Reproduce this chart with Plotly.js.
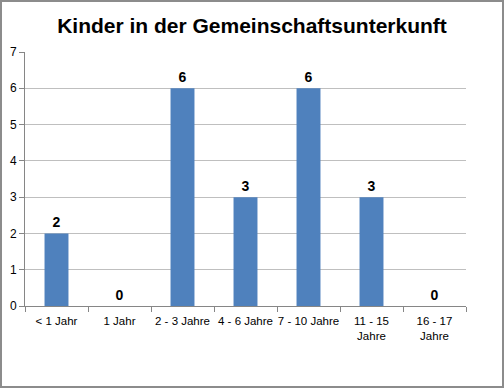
<!DOCTYPE html>
<html>
<head>
<meta charset="utf-8">
<script src="https://cdn.plot.ly/plotly-3.0.1.min.js"></script>
<style>
html,body{margin:0;padding:0;background:#fff;}
#frame{position:absolute;left:0;top:0;width:500px;height:384px;border:2px solid #8c8c8c;}
#chart{position:absolute;left:0;top:0;width:504px;height:388px;}
</style>
</head>
<body>
<div id="chart"></div>
<div id="frame"></div>
<script>
const categories = ["< 1 Jahr", "1 Jahr", "2 - 3 Jahre", "4 - 6 Jahre", "7 - 10 Jahre", "11 - 15<br>Jahre", "16 - 17<br>Jahre"];
const values = [2, 0, 6, 3, 6, 3, 0];
const yTicks = [0, 1, 2, 3, 4, 5, 6, 7];

const font = "Liberation Sans, Arial, sans-serif";

Plotly.newPlot("chart", [{
  type: "bar",
  x: categories,
  y: values,
  marker: {color: "#4F81BD"},
  text: values.map(String),
  textposition: "outside",
  cliponaxis: false,
  textfont: {family: font, size: 14, color: "#000", weight: "bold"},
  hoverinfo: "none"
}], {
  width: 504,
  height: 388,
  margin: {l: 25, r: 38, t: 52, b: 82},
  paper_bgcolor: "#fff",
  plot_bgcolor: "#fff",
  bargap: 0.62,
  showlegend: false,
  title: {
    text: "<b>Kinder in der Gemeinschaftsunterkunft</b>",
    x: 0.5, xanchor: "center", y: 0.933, yanchor: "middle",
    font: {family: font, size: 21, color: "#000"}
  },
  xaxis: {
    type: "category",
    tickson: "boundaries",
    tickangle: 0,
    ticks: "outside",
    ticklen: 5,
    tickcolor: "#868686",
    ticklabelstandoff: 4,
    showline: true,
    linecolor: "#868686",
    linewidth: 1,
    showgrid: false,
    automargin: false,
    tickfont: {family: font, size: 11.5, color: "#000"},
    fixedrange: true
  },
  yaxis: {
    range: [0, 7],
    tickvals: yTicks,
    ticks: "outside",
    ticklen: 5,
    tickcolor: "#868686",
    showline: true,
    linecolor: "#868686",
    showgrid: true,
    gridcolor: "#BFBFBF",
    zeroline: false,
    automargin: false,
    tickfont: {family: font, size: 12, color: "#000"},
    fixedrange: true
  }
}, {displayModeBar: false, staticPlot: true});
</script>
</body>
</html>
